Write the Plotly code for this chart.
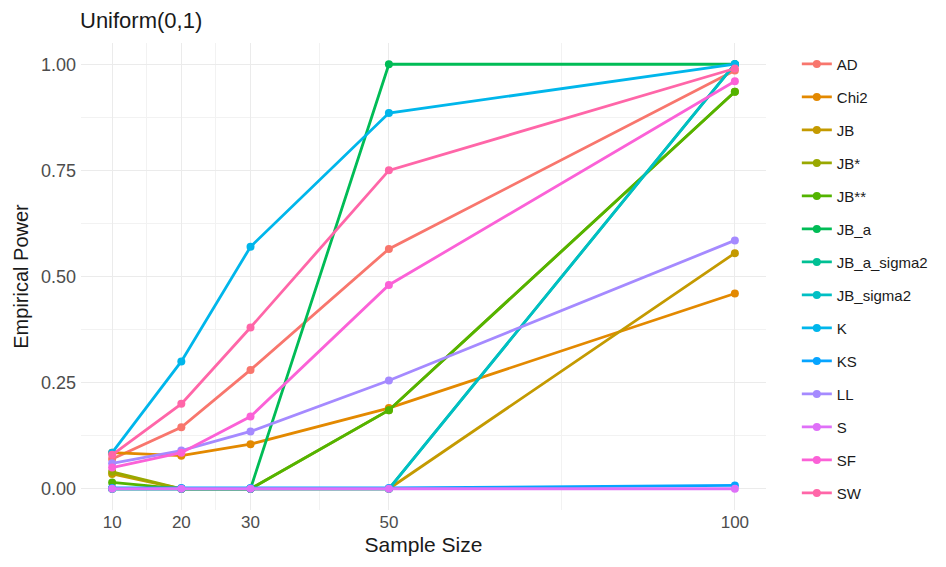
import plotly.graph_objects as go

# Sample sizes on the x axis
sample_sizes = [10, 20, 30, 50, 100]

# Empirical power of each normality test under Uniform(0,1)
test_names = ["AD", "Chi2", "JB", "JB*", "JB**", "JB_a", "JB_a_sigma2",
              "JB_sigma2", "K", "KS", "LL", "S", "SF", "SW"]

power_AD = [0.07, 0.145, 0.28, 0.565, 0.985]
power_Chi2 = [0.085, 0.078, 0.105, 0.19, 0.46]
power_JB = [0.035, 0.0, 0.0, 0.0, 0.555]
power_JB_star = [0.04, 0.0, 0.0, 0.185, 0.935]
power_JB_2star = [0.015, 0.0, 0.0, 0.185, 0.935]
power_JB_a = [0.0, 0.0, 0.0, 1.0, 1.0]
power_JB_a_sigma2 = [0.0, 0.0, 0.0, 0.0, 1.0]
power_JB_sigma2 = [0.0, 0.0, 0.0, 0.0, 1.0]
power_K = [0.085, 0.30, 0.57, 0.885, 1.0]
power_KS = [0.002, 0.002, 0.002, 0.002, 0.008]
power_LL = [0.06, 0.09, 0.135, 0.255, 0.585]
power_S = [0.0, 0.0, 0.0, 0.0, 0.0]
power_SF = [0.05, 0.085, 0.17, 0.48, 0.96]
power_SW = [0.08, 0.20, 0.38, 0.75, 0.99]

series = [power_AD, power_Chi2, power_JB, power_JB_star, power_JB_2star,
          power_JB_a, power_JB_a_sigma2, power_JB_sigma2, power_K, power_KS,
          power_LL, power_S, power_SF, power_SW]

# ggplot-style hue palette for 14 groups
palette = ["#F8766D", "#E38900", "#C49A00", "#99A800", "#53B400", "#00BC56",
           "#00C094", "#00BFC4", "#00B6EB", "#06A4FF", "#A58AFF", "#DF70F8",
           "#FB61D7", "#FF66A8"]

y_ticks = [0.0, 0.25, 0.5, 0.75, 1.0]
y_tick_text = ["0.00", "0.25", "0.50", "0.75", "1.00"]

fig = go.Figure()
for name, vals, col in zip(test_names, series, palette):
    fig.add_trace(go.Scatter(
        x=sample_sizes, y=vals, name=name, mode="lines+markers",
        line=dict(color=col, width=2.8),
        marker=dict(color=col, size=8),
        legendgroup=name,
    ))

font_family = "Liberation Sans, Arial, sans-serif"

fig.update_layout(
    width=946, height=567,
    margin=dict(l=81, r=180, t=43, b=57),
    paper_bgcolor="white", plot_bgcolor="white",
    font=dict(family=font_family, color="#000000"),
    title=dict(text="Uniform(0,1)", x=80 / 946, xanchor="left",
               y=1 - 20 / 567, yanchor="middle",
               font=dict(size=22, color="#1A1A1A", family=font_family)),
    legend=dict(x=1.045, xanchor="left", y=0.99, yanchor="top",
                font=dict(size=15, color="#1A1A1A"),
                tracegroupgap=10.5, itemwidth=30, maxheight=600,
                bgcolor="rgba(0,0,0,0)"),
    showlegend=True,
)

fig.update_xaxes(
    title=dict(text="Sample Size", font=dict(size=21, color="#1A1A1A"), standoff=6),
    range=[5.5, 104.5], tickmode="array", tickvals=sample_sizes,
    ticktext=[str(s) for s in sample_sizes],
    tickfont=dict(size=17, color="#4D4D4D"),
    showgrid=True, gridcolor="#EBEBEB", gridwidth=1.1,
    minor=dict(tickvals=[15, 25, 40, 75], showgrid=True,
               gridcolor="#F2F2F2", gridwidth=0.6),
    zeroline=False, showline=False, ticks="",
)
fig.update_yaxes(
    title=dict(text="Empirical Power", font=dict(size=20, color="#1A1A1A"), standoff=6),
    range=[-0.05, 1.05], tickmode="array", tickvals=y_ticks, ticktext=y_tick_text,
    tickfont=dict(size=18, color="#4D4D4D"), ticklabelstandoff=4,
    showgrid=True, gridcolor="#EBEBEB", gridwidth=1.1,
    minor=dict(tickvals=[0.125, 0.375, 0.625, 0.875], showgrid=True,
               gridcolor="#F2F2F2", gridwidth=0.6),
    zeroline=False, showline=False, ticks="",
)

fig.write_html("out.html")
